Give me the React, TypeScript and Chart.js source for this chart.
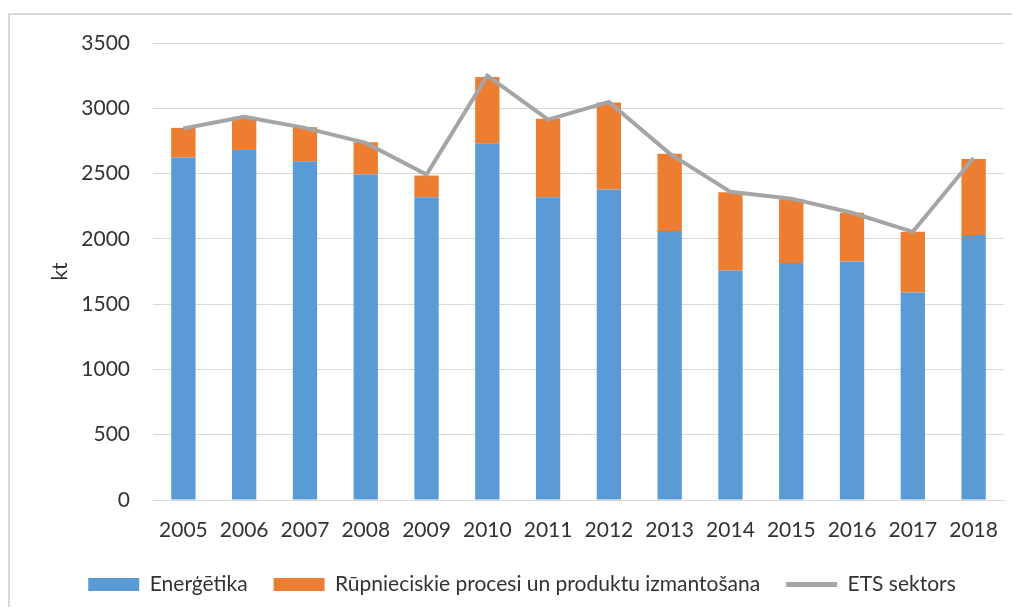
import React, { useEffect, useRef } from "react";
import { Chart, registerables } from "chart.js";

Chart.register(...registerables);

const years = ["2005", "2006", "2007", "2008", "2009", "2010", "2011", "2012", "2013", "2014", "2015", "2016", "2017", "2018"];
const energetika = [2623, 2681, 2594, 2495, 2319, 2732, 2319, 2378, 2061, 1757, 1816, 1826, 1589, 2030];
const rupnieciskie = [227, 254, 261, 245, 166, 508, 600, 666, 590, 600, 490, 373, 465, 582];
const etsSektors = [2845, 2934, 2850, 2735, 2492, 3250, 2913, 3049, 2653, 2360, 2308, 2200, 2054, 2620];
const yTicks = [0, 500, 1000, 1500, 2000, 2500, 3000, 3500];

const labelsText = ["Enerģētika", "Rūpnieciskie procesi un produktu izmantošana", "ETS sektors"];
const TEXT = "#333333";
const FONT = "Lato, 'Open Sans', sans-serif";

export default function App() {
  const ref = useRef<HTMLCanvasElement | null>(null);

  useEffect(() => {
    document.documentElement.style.overflow = "hidden";
    document.body.style.overflow = "hidden";
    const ctx = ref.current!;
    const chart = new Chart(ctx, {
      type: "bar",
      data: {
        labels: years,
        datasets: [
          {
            type: "bar",
            label: labelsText[0],
            data: energetika,
            backgroundColor: "#5b9bd5",
            stack: "s",
            order: 1,
            categoryPercentage: 1,
            barPercentage: 0.4,
          },
          {
            type: "bar",
            label: labelsText[1],
            data: rupnieciskie,
            backgroundColor: "#ed7d31",
            stack: "s",
            order: 1,
            categoryPercentage: 1,
            barPercentage: 0.4,
          },
          {
            type: "line",
            label: labelsText[2],
            data: etsSektors,
            borderColor: "#a5a5a5",
            backgroundColor: "#a5a5a5",
            borderWidth: 4,
            pointRadius: 0,
            tension: 0,
            stack: "ets",
            order: 0,
          } as any,
        ],
      },
      options: {
        animation: false,
        responsive: true,
        maintainAspectRatio: false,
        layout: { padding: { top: 28, right: 16, left: 30, bottom: 2 } },
        plugins: {
          tooltip: { enabled: false },
          legend: {
            position: "bottom",
            labels: {
              usePointStyle: true,
              pointStyleWidth: 51,
              boxHeight: 13,
              padding: 26,
              color: TEXT,
              font: { family: FONT, size: 21 },
              sort: (a: any, b: any) => a.datasetIndex - b.datasetIndex,
              generateLabels: (chart: any) => {
                const items = Chart.defaults.plugins.legend.labels.generateLabels(chart);
                items.forEach((it: any) => {
                  if (it.datasetIndex === 2) {
                    it.pointStyle = "line";
                    it.lineWidth = 5;
                    it.strokeStyle = "#a5a5a5";
                  } else {
                    it.pointStyle = "rect";
                    it.lineWidth = 0;
                  }
                });
                return items;
              },
            },
          },
        },
        scales: {
          x: {
            stacked: true,
            grid: { display: false },
            border: { display: true, color: "#d9d9d9", width: 1 },
            ticks: {
              color: TEXT,
              font: { family: FONT, size: 21 },
              padding: 10,
              maxRotation: 0,
            },
            afterFit: (scale: any) => {
              scale.height = 48;
            },
          },
          y: {
            stacked: true,
            min: 0,
            max: 3500,
            border: { display: false },
            grid: { color: "#d9d9d9", lineWidth: 1, drawTicks: false },
            ticks: {
              stepSize: 500,
              color: TEXT,
              padding: 23,
              font: { family: FONT, size: 21 },
              callback: (v: any) => (yTicks.includes(Number(v)) ? String(v) : ""),
            },
            title: {
              display: true,
              text: "kt",
              color: TEXT,
              font: { family: FONT, size: 21 },
              padding: { top: 8, bottom: 0 },
            },
            afterFit: (scale: any) => {
              scale.width = 113;
              scale.paddingTop = 0;
              scale.paddingBottom = 0;
            },
          },
        },
      },
    });
    return () => chart.destroy();
  }, []);

  return (
    <div style={{ paddingTop: 5 }}>
      <div
        style={{
          width: 1012,
          height: 594,
          boxSizing: "border-box",
          borderTop: "2px solid #d9d9d9",
          borderLeft: "2px solid #d9d9d9",
          position: "relative",
          background: "#fff",
        }}
      >
        <div style={{ position: "absolute", left: 0, top: 0, width: 1010, height: 592 }}>
          <canvas ref={ref} />
        </div>
      </div>
    </div>
  );
}
